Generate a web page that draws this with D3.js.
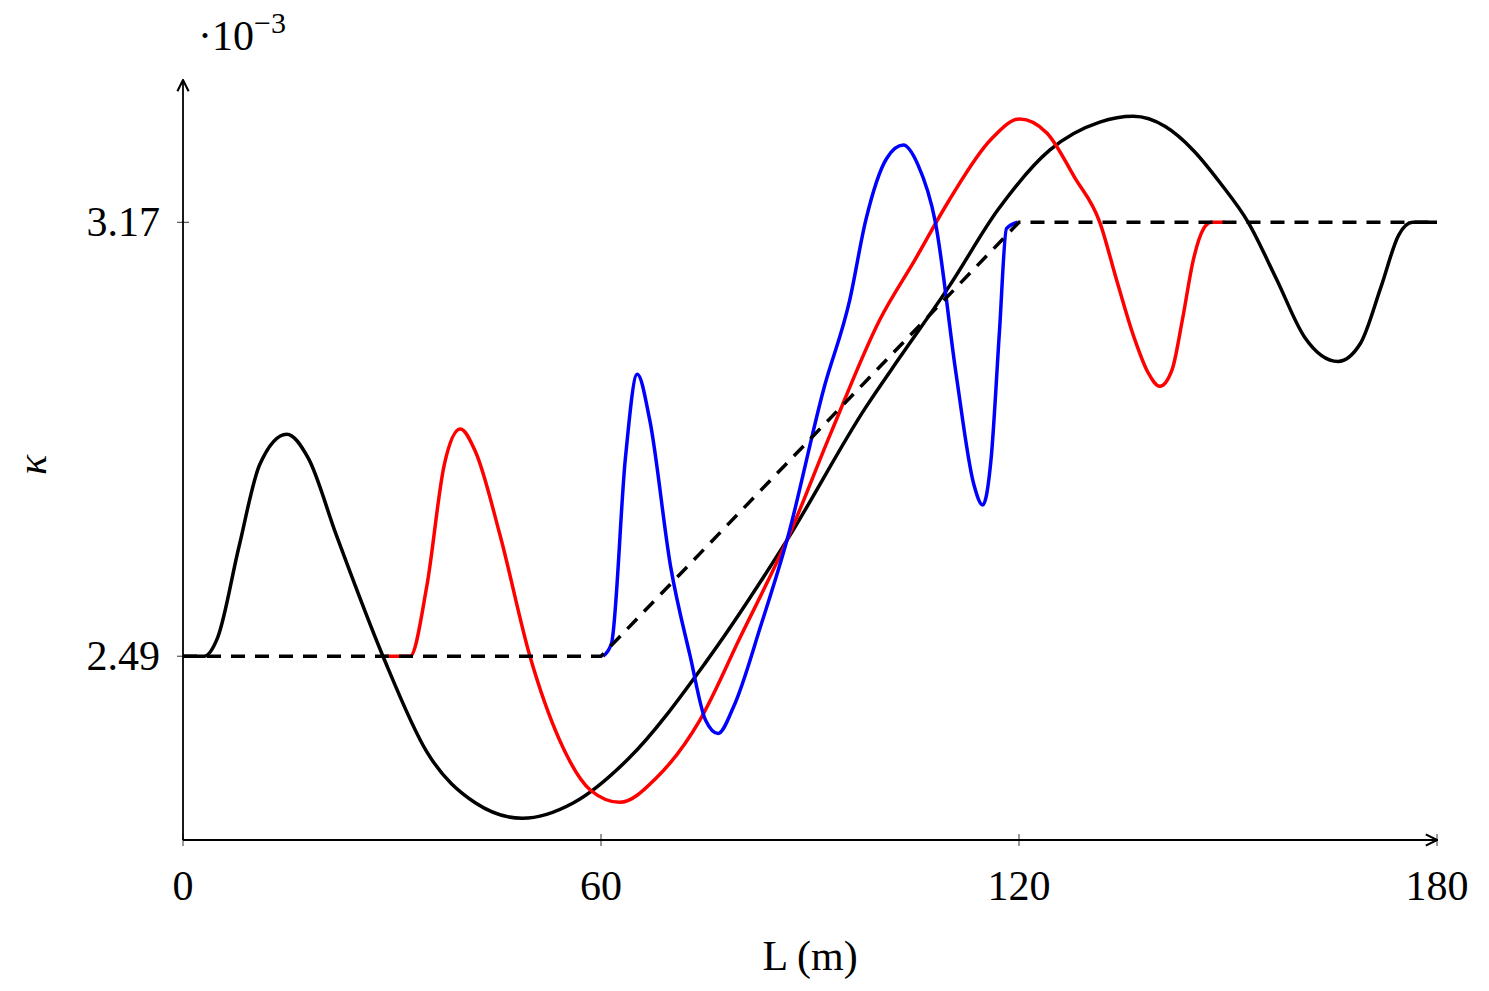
<!DOCTYPE html>
<html><head><meta charset="utf-8">
<script src="https://cdn.jsdelivr.net/npm/d3@7"></script>
<style>body{margin:0;background:#fff}text{font-family:"Liberation Serif",serif}</style>
</head><body><svg id="c"></svg>
<script>
const xTicks = [0, 60, 120, 180];
const yTicks = [2.49, 3.17];
const blackX = [0,3,5,8,11,14.9,18,22,28.7,35,42,48.7,56,64,75,86.7,98,103,110,117,124.4,131.6,136.4,141,145,149,152.9,157,161,165.8,169,172,174.5,176.5,180];
const blackY = [2.49,2.49,2.52,2.66,2.79,2.838,2.80,2.68,2.49,2.34,2.26,2.236,2.26,2.33,2.48,2.672,2.88,2.96,3.07,3.19,3.283,3.327,3.336,3.32,3.283,3.23,3.17,3.08,2.99,2.952,2.98,3.07,3.15,3.17,3.17];
const redX = [29,32.6,35,37.5,39.8,42,45.5,49.8,54,58.5,62.7,68,74.2,80,86.7,93,100,105,110,116,120.1,124,128,131.6,134,136.5,138.5,140.2,142,143.5,145,146.5,147.6,149.6];
const redY = [2.49,2.49,2.6,2.79,2.846,2.81,2.68,2.49,2.36,2.28,2.261,2.30,2.39,2.52,2.672,2.84,3.017,3.11,3.205,3.30,3.332,3.31,3.24,3.17,3.08,2.99,2.935,2.913,2.94,3.02,3.11,3.16,3.17,3.17];
const blueX = [60.3,61.5,63.5,65.2,67,70,72.8,75,76.8,79,83,86.7,92,95.7,98,101,103.4,105.5,108,111,113.5,114.8,116,117.2,118.2,119.8];
const blueY = [2.49,2.51,2.80,2.932,2.86,2.63,2.49,2.39,2.369,2.41,2.54,2.672,2.91,3.048,3.173,3.27,3.291,3.26,3.17,2.93,2.76,2.727,2.80,3.00,3.16,3.17];
const dashX = [0, 60, 120, 180];
const dashY = [2.49, 2.49, 3.17, 3.17];

const svg = d3.select("#c").attr("width", 1489).attr("height", 991);
const x = d3.scaleLinear().domain([0, 180]).range([183, 1437]);
const y = d3.scaleLinear().domain([2.202, 3.393]).range([840, 80]);

const defs = svg.append("defs");
defs.append("marker").attr("id", "arr").attr("viewBox", "0 0 10 10").attr("refX", 9).attr("refY", 5)
  .attr("markerWidth", 14).attr("markerHeight", 14).attr("markerUnits", "userSpaceOnUse").attr("orient", "auto")
  .append("path").attr("d", "M1,1 L9,5 L1,9").attr("fill", "none").attr("stroke", "#000").attr("stroke-width", 1.5);

// axes
svg.append("line").attr("x1", 183).attr("y1", 840).attr("x2", 1437).attr("y2", 840)
  .attr("stroke", "#000").attr("stroke-width", 1.8).attr("marker-end", "url(#arr)");
svg.append("line").attr("x1", 183).attr("y1", 840).attr("x2", 183).attr("y2", 80)
  .attr("stroke", "#000").attr("stroke-width", 1.8).attr("marker-end", "url(#arr)");

xTicks.forEach(t => {
  svg.append("line").attr("x1", x(t)).attr("x2", x(t)).attr("y1", 834).attr("y2", 846).attr("stroke", "#000").attr("stroke-width", 0.8);
  svg.append("text").attr("x", x(t)).attr("y", 900).attr("text-anchor", "middle").attr("font-size", 42).text(t);
});
yTicks.forEach(t => {
  svg.append("line").attr("x1", 177).attr("x2", 189).attr("y1", y(t)).attr("y2", y(t)).attr("stroke", "#000").attr("stroke-width", 0.8);
  svg.append("text").attr("x", 160).attr("y", y(t) + 14).attr("text-anchor", "end").attr("font-size", 42).text(t.toFixed(2));
});
const m = svg.append("text").attr("x", 198).attr("y", 50).attr("font-size", 42);
m.append("tspan").text("·10");
m.append("tspan").attr("dy", -17).attr("font-size", 30).text("−3");
svg.append("text").attr("x", 810).attr("y", 970).attr("text-anchor", "middle").attr("font-size", 42).text("L (m)");
svg.append("text").attr("transform", "translate(46,465) rotate(-90)").attr("text-anchor", "middle")
  .attr("font-size", 42).attr("font-style", "italic").text("κ");

const line = d3.line().x(d => x(d[0])).y(d => y(d[1])).curve(d3.curveMonotoneX);
const zip = (a, b) => a.map((v, i) => [v, b[i]]);
svg.append("path").attr("d", line(zip(blackX, blackY))).attr("fill", "none").attr("stroke", "#000").attr("stroke-width", 3.5);
svg.append("path").attr("d", line(zip(redX, redY))).attr("fill", "none").attr("stroke", "#f00").attr("stroke-width", 3.5);
svg.append("path").attr("d", line(zip(blueX, blueY))).attr("fill", "none").attr("stroke", "#00f").attr("stroke-width", 3.5);
svg.append("path").attr("d", d3.line().x(d => x(d[0])).y(d => y(d[1]))(zip(dashX, dashY)))
  .attr("fill", "none").attr("stroke", "#000").attr("stroke-width", 3.5).attr("stroke-dasharray", "14,10");
</script></body></html>
